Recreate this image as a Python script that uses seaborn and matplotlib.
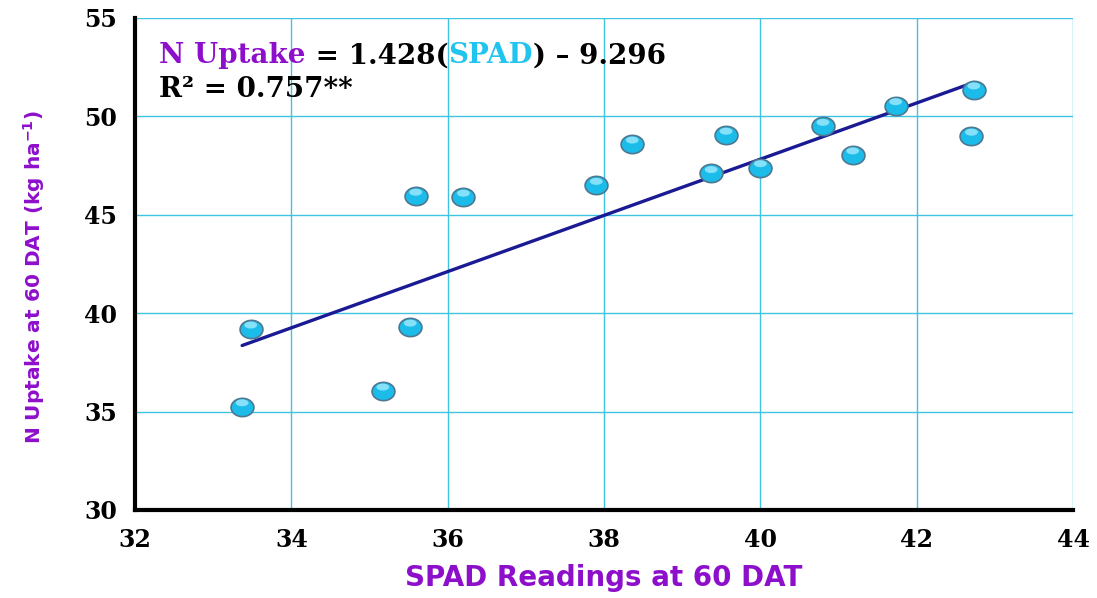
import numpy as np
import pandas as pd
import matplotlib
matplotlib.use("Agg")
import matplotlib.pyplot as plt
from matplotlib.path import Path
import seaborn as sb

# values
spad = [33.37, 33.48, 35.17, 35.52, 35.59, 36.20, 37.90, 38.36,
        39.37, 39.56, 40.00, 40.80, 41.18, 41.73, 42.70, 42.73]
n_uptake = [35.25, 39.20, 36.05, 39.30, 45.95, 45.90, 46.50, 48.60,
            47.10, 49.05, 47.40, 49.50, 48.05, 50.55, 49.00, 51.35]
slope = 1.428
intercept = -9.296
x_ticks = [32, 34, 36, 38, 40, 42, 44]
y_ticks = [30, 35, 40, 45, 50, 55]

df = pd.DataFrame({'spad': spad, 'uptake': n_uptake})
fit_x = np.array([min(spad), max(spad)])
df_fit = pd.DataFrame({'spad': fit_x, 'uptake': slope * fit_x + intercept})

purple = '#8E0FCB'
cyan = '#20C4EE'
grid_c = '#3EC3E0'

sb.set_theme(style='white')
plt.rcParams['font.family'] = ['DejaVu Serif']
plt.rcParams['mathtext.fontset'] = 'dejavusans'

fig = plt.figure(figsize=(10.97, 5.98), dpi=100)
ax = fig.add_axes([0.1231, 0.1472, 0.8551, 0.8228])

# slightly flattened ball marker plus an upper highlight
t = np.linspace(0, 2 * np.pi, 60)
ell = Path(np.column_stack([1.25 * np.cos(t), np.sin(t)]), closed=True)
hl = Path(np.column_stack([0.7 * np.cos(t), 0.42 + 0.38 * np.sin(t)]), closed=True)
s_base = 270
unit = np.sqrt(s_base) * 0.5 / 1.25
s_hl = (unit * 0.80 / 0.5) ** 2

sb.lineplot(data=df_fit, x='spad', y='uptake', color='#1A1A95', lw=2.4, ax=ax, zorder=3)
sb.scatterplot(data=df, x='spad', y='uptake', marker=ell, s=s_base, color='#1CBCEA',
               edgecolor='#4D7890', linewidth=1.2, ax=ax, zorder=4)
sb.scatterplot(data=df, x='spad', y='uptake', marker=hl, s=s_hl, color='#A8EEFF',
               edgecolor='none', linewidth=0, alpha=0.75, ax=ax, zorder=5)

ax.set_xlim(32, 44)
ax.set_ylim(30, 55)
ax.set_xticks(x_ticks)
ax.set_yticks(y_ticks)
ax.grid(True, color=grid_c, lw=1.0)
ax.set_axisbelow(True)
for s in ['top', 'right']:
    ax.spines[s].set_visible(False)
for s in ['left', 'bottom']:
    ax.spines[s].set_color('black')
    ax.spines[s].set_linewidth(3)
ax.tick_params(axis='both', direction='out', length=7, width=3, color='black',
               labelsize=17, labelcolor='black', pad=6)
for lab in ax.get_xticklabels() + ax.get_yticklabels():
    lab.set_fontweight('bold')

ax.set_xlabel('SPAD Readings at 60 DAT', fontsize=20, fontweight='bold',
              color=purple, family='DejaVu Sans')
ax.set_ylabel('N Uptake at 60 DAT (kg ha$^{\\mathbf{-1}}$)', fontsize=14.5, fontweight='bold',
              color=purple, family='DejaVu Sans')
ax.xaxis.set_label_coords(0.5, -0.11)
ax.yaxis.set_label_coords(-0.094, 0.474)

# equation in three colours, placed piece by piece
kw = dict(fontsize=20, fontweight='bold', va='baseline', ha='left', transform=ax.transAxes)
pieces = [('N Uptake', purple), (' = 1.428(', 'black'), ('SPAD', cyan), (') \u2013 9.296', 'black')]
fig.canvas.draw()
r = fig.canvas.get_renderer()
x0 = 0.026
ax_w = ax.get_window_extent(r).width
for txt, col in pieces:
    tt = ax.text(x0, 0.908, txt, color=col, **kw)
    x0 += tt.get_window_extent(r).width / ax_w
ax.text(0.026, 0.84, 'R\u00b2 = 0.757**', color='black', **kw)

fig.savefig('out.png', dpi=100)
